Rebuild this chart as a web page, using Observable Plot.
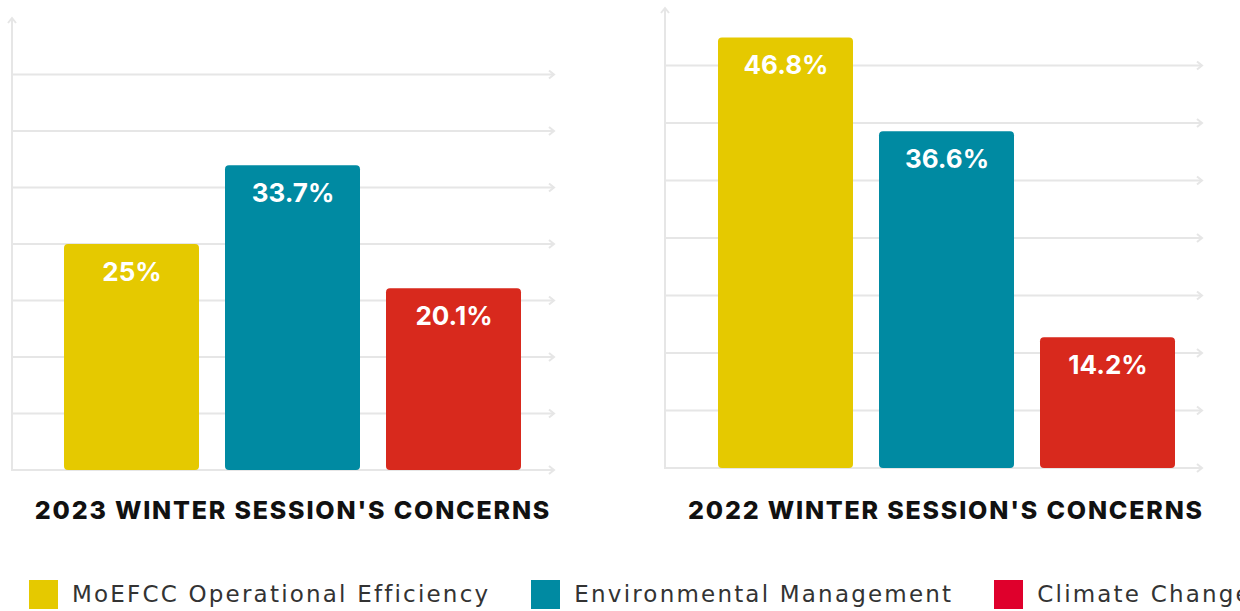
<!DOCTYPE html>
<html>
<head>
<meta charset="utf-8">
<script src="https://cdn.jsdelivr.net/npm/d3@7"></script>
<script src="https://cdn.jsdelivr.net/npm/@observablehq/plot@0.6"></script>
<style>
  html, body { margin: 0; padding: 0; background: #fff; }
  #page { position: relative; width: 1240px; height: 611px; overflow: hidden; background: #fff; }
  .panel { position: absolute; top: 0; }
  .title { position: absolute; top: 496px; text-align: center; font-family: Inter, "Open Sans", sans-serif;
           font-weight: 800; font-size: 25px; letter-spacing: 1.8px; line-height: 28px; color: #111; white-space: nowrap; }
  #legend { position: absolute; left: 29px; top: 580px; display: flex; align-items: center;
            font-family: "DejaVu Sans", sans-serif; font-size: 23px; letter-spacing: 2.2px; color: #333; white-space: nowrap; }
  .item { display: flex; align-items: center; margin-right: 41px; height: 29px; flex: none; }
  .item span { line-height: 29px; }
  .sw { width: 29px; height: 29px; margin-right: 14px; flex: none; }
</style>
</head>
<body>
<div id="page">
  <div id="left" class="panel" style="left:0px"></div>
  <div id="right" class="panel" style="left:652px"></div>
  <div id="t0" class="title" style="left:0px; width:586px"></div>
  <div id="t1" class="title" style="left:652px; width:588px"></div>
  <div id="legend"></div>
</div>
<script>
const categories = ["MoEFCC Operational Efficiency", "Environmental Management", "Climate Change"];
const values2023 = [25, 33.7, 20.1];
const values2022 = [46.8, 36.6, 14.2];
const barColors = ["#e5c900", "#008aa2", "#d8291d"];
const legendColors = ["#e5c900", "#008aa2", "#df002c"];
const gridTicks = [0, 6.25, 12.5, 18.75, 25, 31.25, 37.5, 43.75];
const axisMax = 50;
const titles = ["2023 WINTER SESSION'S CONCERNS", "2022 WINTER SESSION'S CONCERNS"];

function gridMark(ticks, top) {
  return (index, scales, values, dims) => {
    const g = d3.create("svg:g").attr("fill", "none").attr("stroke", "#e6e6e6").attr("stroke-width", 2);
    const x0 = dims.marginLeft, x1 = dims.width - dims.marginRight;
    for (const t of ticks) {
      const y = scales.y(t);
      g.append("line").attr("x1", x0).attr("x2", x1).attr("y1", y).attr("y2", y);
      g.append("path").attr("d", `M${x1 - 5},${y - 4}L${x1},${y}L${x1 - 5},${y + 4}`);
    }
    const yb = scales.y(0), yt = scales.y(top);
    g.append("line").attr("x1", x0).attr("x2", x0).attr("y1", yb + 1).attr("y2", yt);
    g.append("path").attr("d", `M${x0 - 4},${yt + 5}L${x0},${yt}L${x0 + 4},${yt + 5}`);
    return g.node();
  };
}

function panel(values, opts) {
  const data = categories.map((c, i) => ({cat: c, value: values[i]}));
  return Plot.plot({
    width: opts.width,
    height: 480,
    marginLeft: opts.marginLeft,
    marginRight: 6,
    marginTop: opts.marginTop,
    marginBottom: opts.marginBottom,
    style: {background: "transparent", overflow: "visible"},
    x: {domain: categories, axis: null, paddingInner: 0.16, paddingOuter: opts.paddingOuter, align: opts.align},
    y: {domain: [0, axisMax], axis: null},
    color: {domain: categories, range: barColors},
    marks: [
      gridMark(gridTicks, axisMax),
      Plot.barY(data, {x: "cat", y: "value", fill: "cat", rx: 4}),
      Plot.text(data, {x: "cat", y: "value", text: d => `${d.value}%`, fill: "white",
        fontSize: 26, fontWeight: 700, fontFamily: "Inter, sans-serif", lineAnchor: "bottom", dy: 36,
        letterSpacing: "0.6px"})
    ]
  });
}

document.getElementById("left").append(panel(values2023,
  {width: 560, marginLeft: 12, marginTop: 18, marginBottom: 10, paddingOuter: 0.253, align: 0.61}));
document.getElementById("right").append(panel(values2022,
  {width: 556, marginLeft: 13, marginTop: 8, marginBottom: 12, paddingOuter: 0.238, align: 0.66}));

document.getElementById("t0").textContent = titles[0];
document.getElementById("t1").textContent = titles[1];

const legend = document.getElementById("legend");
categories.forEach((c, i) => {
  const item = document.createElement("div");
  item.className = "item";
  const sw = document.createElement("div");
  sw.className = "sw";
  sw.style.background = legendColors[i];
  const label = document.createElement("span");
  label.textContent = c;
  item.append(sw, label);
  legend.append(item);
});
</script>
</body>
</html>
